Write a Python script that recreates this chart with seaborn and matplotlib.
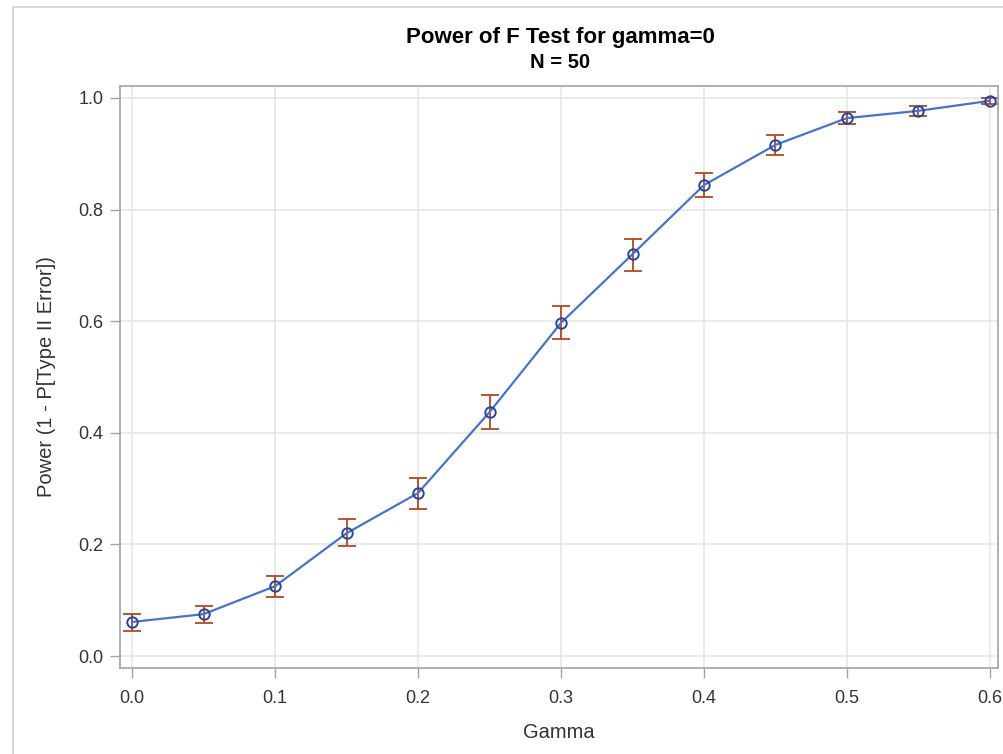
import seaborn as sns
import numpy as np
import matplotlib.pyplot as plt
import pandas as pd
from matplotlib.patches import Rectangle

# values
gamma = [0.0, 0.05, 0.1, 0.15, 0.2, 0.25, 0.3, 0.35, 0.4, 0.45, 0.5, 0.55, 0.6]
power = [0.061, 0.075, 0.125, 0.220, 0.292, 0.437, 0.597, 0.720, 0.844, 0.916, 0.964, 0.977, 0.995]
lower = [0.045, 0.059, 0.106, 0.197, 0.263, 0.407, 0.568, 0.690, 0.823, 0.898, 0.953, 0.968, 0.989]
upper = [0.075, 0.090, 0.143, 0.245, 0.319, 0.468, 0.627, 0.747, 0.866, 0.934, 0.975, 0.986, 1.000]

x_ticks = [0.0, 0.1, 0.2, 0.3, 0.4, 0.5, 0.6]
y_ticks = [0.0, 0.2, 0.4, 0.6, 0.8, 1.0]

df = pd.DataFrame({"gamma": gamma, "power": power, "lower": lower, "upper": upper})

sns.set_theme(style="whitegrid")
plt.rcParams['font.family'] = ['Liberation Sans', 'DejaVu Sans']

fig = plt.figure(figsize=(10.04, 7.54), dpi=100)
ax = fig.add_axes([120 / 1004, 1 - 668 / 754, 878 / 1004, 582 / 754])

# outer frame of the graph (cut off at right and bottom)
fig.patches.append(Rectangle((13 / 1004, -0.1), 1.2, 1 - 7 / 754 + 0.1,
                             transform=fig.transFigure, fill=False,
                             edgecolor="#d0d0d0", linewidth=1.2))

ax.errorbar(df["gamma"], df["power"],
            yerr=[df["power"] - df["lower"], df["upper"] - df["power"]],
            fmt="none", ecolor="#b5471f", elinewidth=1.3, capsize=6.5, capthick=1.3, zorder=2)
sns.lineplot(data=df, x="gamma", y="power", ax=ax, color="#4a72c8", linewidth=1.6,
             marker="o", markersize=7.5, markerfacecolor="none",
             markeredgecolor="#2446a0", markeredgewidth=1.4, zorder=3)

ax.set_xlim(-0.0084, 0.6056)
ax.set_ylim(-0.0215, 1.0215)
ax.set_xticks(x_ticks)
ax.set_yticks(y_ticks)
ax.set_xticklabels([f"{t:.1f}" for t in x_ticks])
ax.set_yticklabels([f"{t:.1f}" for t in y_ticks])

ax.grid(True, color="#e4e4e4", linewidth=1.1)
for s in ax.spines.values():
    s.set_color("#a0a4a8")
    s.set_linewidth(1.2)
ax.tick_params(axis="both", which="major", length=7, width=1, color="#a0a4a8",
               labelsize=13, labelcolor="#333333", pad=5, bottom=True, left=True)
ax.tick_params(axis="x", pad=9)

ax.set_xlabel("Gamma", fontsize=14.5, color="#333333", labelpad=11)
ax.set_ylabel("Power (1 - P[Type II Error])", fontsize=14.5, color="#333333", labelpad=16)

fig.text(560 / 1004, 1 - 38 / 754, "Power of F Test for gamma=0", ha="center", va="center",
         fontsize=16, fontweight="bold", color="#000000")
fig.text(560 / 1004, 1 - 62 / 754, "N = 50", ha="center", va="center",
         fontsize=14.5, fontweight="bold", color="#000000")

plt.savefig("out.png", dpi=100)
